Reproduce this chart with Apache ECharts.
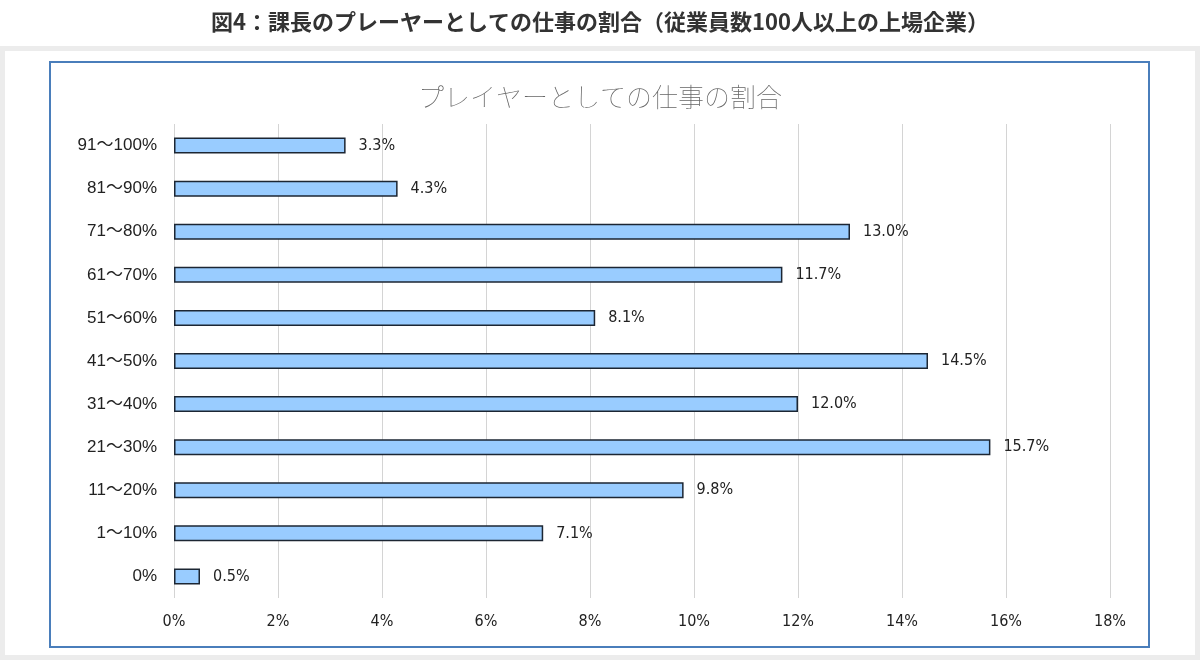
<!DOCTYPE html>
<html>
<head>
<meta charset="utf-8">
<script src="https://cdn.jsdelivr.net/npm/echarts@6/dist/echarts.min.js"></script>
<style>
  html, body { margin: 0; padding: 0; background: #fff; }
  #main { width: 1200px; height: 660px; }
</style>
</head>
<body>
<div id="main"></div>
<script>
// カテゴリ（上から下の順）
var categories = ['91〜100%', '81〜90%', '71〜80%', '61〜70%', '51〜60%', '41〜50%', '31〜40%', '21〜30%', '11〜20%', '1〜10%', '0%'];
// 割合（%）
var shares = [3.3, 4.3, 13.0, 11.7, 8.1, 14.5, 12.0, 15.7, 9.8, 7.1, 0.5];
var xTicks = [0, 2, 4, 6, 8, 10, 12, 14, 16, 18];

var narrowFont = '"Liberation Sans Narrow", "DejaVu Sans Condensed", "Noto Sans CJK JP", sans-serif';
var catFont = '"Liberation Sans", "Noto Sans CJK JP", sans-serif';

var myChart = echarts.init(document.getElementById('main'));
myChart.setOption({
    animation: false,
    backgroundColor: '#fff',
    graphic: [
        { type: 'rect', z: -10, shape: { x: 0, y: 46, width: 1200, height: 614 }, style: { fill: '#ececec' } },
        { type: 'rect', z: -9, shape: { x: 5, y: 51, width: 1190, height: 604 }, style: { fill: '#fff' } },
        { type: 'rect', z: -8, shape: { x: 50, y: 62, width: 1099, height: 585 }, style: { fill: '#fff', stroke: '#4a7ebb', lineWidth: 2 } }
    ],
    title: [
        {
            text: '図4：課長のプレーヤーとしての仕事の割合（従業員数100人以上の上場企業）',
            left: 'center', top: 6,
            textStyle: { fontFamily: '"Noto Sans CJK JP", sans-serif', fontSize: 22, fontWeight: 600, color: '#333' }
        },
        {
            text: 'プレイヤーとしての仕事の割合',
            left: 'center', top: 79,
            textStyle: { fontFamily: '"Noto Sans CJK JP", sans-serif', fontSize: 26, fontWeight: 'lighter', color: '#666' }
        }
    ],
    grid: { left: 174, right: 90, top: 124, bottom: 62, containLabel: false },
    xAxis: {
        type: 'value',
        min: 0, max: 18, interval: 2,
        axisLine: { show: false },
        axisTick: { show: false },
        splitLine: { show: true, lineStyle: { color: '#d4d4d4', width: 1 } },
        axisLabel: {
            margin: 16,
            fontFamily: narrowFont, fontSize: 16, color: '#222',
            formatter: function (v) { return xTicks.indexOf(v) >= 0 ? v + '%' : ''; }
        }
    },
    yAxis: {
        type: 'category',
        data: categories,
        inverse: true,
        axisLine: { show: false },
        axisTick: { show: false },
        axisLabel: { margin: 17, fontFamily: catFont, fontSize: 17, color: '#222' }
    },
    series: [{
        type: 'bar',
        data: shares,
        barWidth: 16,
        itemStyle: { color: '#99ccff', borderColor: '#1c2633', borderWidth: 1.5 },
        label: {
            show: true, position: 'right', distance: 13,
            fontFamily: narrowFont, fontSize: 16, color: '#222',
            formatter: function (p) { return p.value.toFixed(1) + '%'; }
        }
    }]
});
</script>
</body>
</html>
